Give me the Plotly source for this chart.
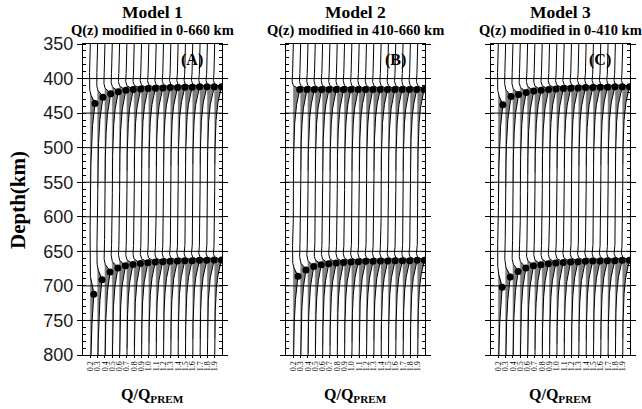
import numpy as np
import plotly.graph_objects as go

# ---------------- data ----------------
q_ratio = [0.2, 0.3, 0.4, 0.5, 0.6, 0.7, 0.8, 0.9, 1.0, 1.1, 1.2, 1.3, 1.4, 1.5, 1.6, 1.7, 1.8, 1.9]
q_labels = ["0.2", "0.3", "0.4", "0.5", "0.6", "0.7", "0.8", "0.9", "1.0",
            "1.1", "1.2", "1.3", "1.4", "1.5", "1.6", "1.7", "1.8", "1.9"]
depth_ticks = [350, 400, 450, 500, 550, 600, 650, 700, 750, 800]
grid_depths = [400, 450, 500, 550, 600, 650, 700, 750]

model_titles = ["Model 1", "Model 2", "Model 3"]
model_subtitles = ["Q(z) modified in 0-660 km", "Q(z) modified in 410-660 km", "Q(z) modified in 0-410 km"]
panel_tags = ["(A)", "(B)", "(C)"]

# picked depths (km) of the 410 and 660 arrivals for each Q/Q_PREM
peak410_m1 = [436, 427, 422, 419, 417, 416, 415, 414.5, 414, 413.5, 413, 413, 412.5, 412.5, 412, 412, 412, 412]
peak660_m1 = [712, 691, 680, 674, 671, 669, 667.5, 666.5, 665.5, 665, 664.5, 664, 663.5, 663.5, 663, 663, 662.5, 662.5]
peak410_m2 = [416, 416, 416, 416, 416, 416, 416, 416, 416, 416, 416, 416, 416, 416, 416, 416, 416, 416]
peak660_m2 = [686, 677, 672, 669.5, 668, 667, 666, 665.5, 665, 664.5, 664.5, 664, 664, 663.5, 663.5, 663.5, 663, 663]
peak410_m3 = [438, 426, 423, 420, 418, 417, 416, 415, 414.5, 414, 413.5, 413, 413, 412.5, 412.5, 412, 412, 412]
peak660_m3 = [702, 687, 679, 674, 671, 669.5, 668, 667, 666, 665.5, 665, 664.5, 664, 664, 663.5, 663.5, 663, 663]

peaks410 = [peak410_m1, peak410_m2, peak410_m3]
peaks660 = [peak660_m1, peak660_m2, peak660_m3]

# ---------------- geometry ----------------
W, H = 642, 409
def fx(px):
    return px / W
def fy(py):
    return 1 - py / H

x_domains = [[fx(83), fx(222)], [fx(286), fx(425)], [fx(491), fx(630)]]
y_domain = [fy(355), fy(44)]

depth = np.arange(350, 800.01, 0.5)


def pulse(d, peak, ref):
    """wiggle glyph drawn around a picked arrival depth"""
    delay = max(peak - ref, 1.0)
    u = d - peak
    rise = 2.0 + 0.3 * delay
    decay = 28 + 0.5 * delay
    amp = 0.1 / (1 + 0.02 * delay)
    pos = np.where(u < 0, np.exp(-(u / rise) ** 2), np.exp(-u / decay))
    neg = -0.2 * np.exp(-((u + 3.0 * rise + 4) / (2.0 * rise + 3)) ** 2)
    return amp * (pos + neg)


fig = go.Figure()

for p in range(3):
    xa = "x" if p == 0 else f"x{p+1}"
    ya = "y" if p == 0 else f"y{p+1}"
    px_all, py_all = [], []
    lines = []
    for i, q in enumerate(q_ratio):
        w = pulse(depth, peaks410[p][i], 410) + pulse(depth, peaks660[p][i], 660)
        lines.append((q + w, q))
        on = w > 0.002
        idx = np.flatnonzero(on)
        if idx.size == 0:
            continue
        splits = np.flatnonzero(np.diff(idx) > 1)
        starts = np.concatenate([[idx[0]], idx[splits + 1]])
        ends = np.concatenate([idx[splits], [idx[-1]]])
        for s, e in zip(starts, ends):
            seg_d = depth[s:e + 1]
            seg_x = q + w[s:e + 1]
            px_all += [float(v) for v in seg_x] + [q, q, None]
            py_all += [float(v) for v in seg_d] + [float(seg_d[-1]), float(seg_d[0]), None]
    fig.add_trace(go.Scatter(x=px_all, y=py_all, mode="lines", fill="toself",
                             fillcolor="rgb(128,128,128)",
                             line=dict(width=0.5, color="rgb(128,128,128)", simplify=False),
                             connectgaps=False,
                             hoverinfo="skip", showlegend=False, xaxis=xa, yaxis=ya))
    for xs, q in lines:
        fig.add_trace(go.Scatter(x=xs, y=depth, mode="lines", line=dict(color="black", width=1),
                                 hoverinfo="skip", showlegend=False, xaxis=xa, yaxis=ya))
    dx, dy = [], []
    for i, q in enumerate(q_ratio):
        for pk, ref in ((peaks410[p][i], 410), (peaks660[p][i], 660)):
            dx.append(q + float(pulse(np.array([pk]), pk, ref)[0]))
            dy.append(pk)
    fig.add_trace(go.Scatter(x=dx, y=dy, mode="markers",
                             marker=dict(color="black", size=7),
                             hoverinfo="skip", showlegend=False, xaxis=xa, yaxis=ya))

    for gd in grid_depths:
        fig.add_shape(type="line", xref=f"{xa} domain", yref=ya, x0=0, x1=1, y0=gd, y1=gd,
                      line=dict(color="black", width=1), layer="above")

axis_common_x = dict(range=[0.1, 2.0], tickmode="array", tickvals=q_ratio, ticktext=q_labels,
                     tickangle=-90, tickfont=dict(family="Liberation Serif", size=8, color="black"),
                     showline=True, linecolor="black", linewidth=1, mirror=True, automargin=False,
                     showgrid=False, zeroline=False, ticks="outside", ticklen=2, tickcolor="black")
axis_common_y = dict(range=[800, 350], tickmode="array", tickvals=depth_ticks, automargin=False,
                     showline=True, linecolor="black", linewidth=1, mirror="ticks",
                     showgrid=False, zeroline=False, ticks="outside", ticklen=5, tickcolor="black",
                     tickfont=dict(family="Liberation Sans", size=18, color="#1a1a1a"),
                     minor=dict(tickmode="linear", tick0=350, dtick=10, ticks="inside",
                                ticklen=3, tickcolor="black", showgrid=False),
                     domain=y_domain)

layout = dict(width=W, height=H, margin=dict(l=0, r=0, t=0, b=0, autoexpand=False),
              paper_bgcolor="white", plot_bgcolor="white", showlegend=False)
for p in range(3):
    xk = "xaxis" if p == 0 else f"xaxis{p+1}"
    yk = "yaxis" if p == 0 else f"yaxis{p+1}"
    ya = "y" if p == 0 else f"y{p+1}"
    xa = "x" if p == 0 else f"x{p+1}"
    layout[xk] = dict(axis_common_x, domain=x_domains[p], anchor=ya)
    layout[yk] = dict(axis_common_y, anchor=xa, showticklabels=(p == 0))
fig.update_layout(**layout)

annos = []
for p in range(3):
    cx = (x_domains[p][0] + x_domains[p][1]) / 2
    annos.append(dict(x=cx, y=fy(12), xref="paper", yref="paper", text="<b>" + model_titles[p] + "</b>",
                      showarrow=False, font=dict(family="Liberation Serif", size=17.5, color="black"),
                      xanchor="center", yanchor="middle"))
    annos.append(dict(x=cx, y=fy(30), xref="paper", yref="paper", text="<b>" + model_subtitles[p] + "</b>",
                      showarrow=False, font=dict(family="Liberation Serif", size=14.5, color="black"),
                      xanchor="center", yanchor="middle"))
    annos.append(dict(x=x_domains[p][0] + (x_domains[p][1] - x_domains[p][0]) * 0.785, y=fy(60),
                      xref="paper", yref="paper", text="<b>" + panel_tags[p] + "</b>",
                      showarrow=False, font=dict(family="Liberation Serif", size=16, color="black"),
                      xanchor="center", yanchor="middle"))
    annos.append(dict(x=cx, y=fy(395), xref="paper", yref="paper", text="<b>Q/Q<sub>PREM</sub></b>",
                      showarrow=False, font=dict(family="Liberation Serif", size=16, color="black"),
                      xanchor="center", yanchor="middle"))
annos.append(dict(x=fx(18), y=fy(200), xref="paper", yref="paper", text="<b>Depth(km)</b>",
                  showarrow=False, textangle=-90,
                  font=dict(family="Liberation Serif", size=21, color="black"),
                  xanchor="center", yanchor="middle"))
fig.update_layout(annotations=annos)

fig.write_html("out.html", config={"displayModeBar": False},
               post_script="document.body.style.margin='0px';document.body.style.overflow='hidden';")
